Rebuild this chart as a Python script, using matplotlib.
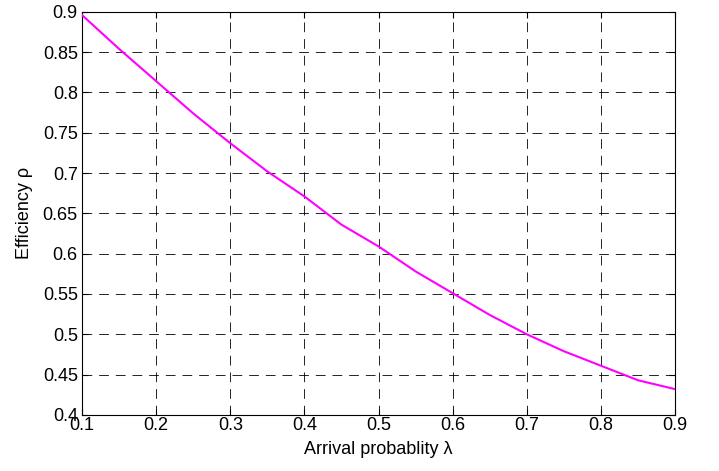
import matplotlib
matplotlib.use("Agg")
import matplotlib.pyplot as plt

# arrival probability (x) and efficiency (y)
lam = [0.10, 0.15, 0.20, 0.25, 0.30, 0.35, 0.40, 0.45, 0.50,
       0.55, 0.60, 0.65, 0.70, 0.75, 0.80, 0.85, 0.90]
rho = [0.896, 0.854, 0.814, 0.774, 0.737, 0.702, 0.671, 0.636, 0.609,
       0.578, 0.551, 0.524, 0.500, 0.479, 0.461, 0.443, 0.432]

xticks = [0.1, 0.2, 0.3, 0.4, 0.5, 0.6, 0.7, 0.8, 0.9]
yticks = [0.4, 0.45, 0.5, 0.55, 0.6, 0.65, 0.7, 0.75, 0.8, 0.85, 0.9]

plt.rcParams['font.family'] = ['Liberation Sans', 'DejaVu Sans']
plt.rcParams['font.size'] = 13
plt.rcParams['lines.scale_dashes'] = False

fig = plt.figure(figsize=(7.19, 4.71), dpi=100)
ax = fig.add_axes([0.114, 0.119, 0.825, 0.856])

ax.plot(lam, rho, color='#ff00ff', linewidth=1.5, zorder=3)

ax.set_xlim(0.1, 0.9)
ax.set_ylim(0.4, 0.9)
ax.set_xticks(xticks)
ax.set_xticklabels([f"{v:g}" for v in xticks])
ax.set_yticks(yticks)
ax.set_yticklabels([f"{v:g}" for v in yticks])

ax.grid(True, color='black', linestyle=(0, (7, 5)), linewidth=0.6)
ax.tick_params(axis='both', direction='in', top=True, right=True, length=4,
               width=0.8, labelsize=13)
ax.tick_params(axis='x', pad=1.5)
ax.tick_params(axis='y', pad=3)
for s in ax.spines.values():
    s.set_linewidth(0.8)

ax.set_xlabel('Arrival probablity λ', fontsize=13, labelpad=5)
ax.set_ylabel('Efficiency ρ', fontsize=13, labelpad=7)

fig.savefig('out.png', dpi=100)
